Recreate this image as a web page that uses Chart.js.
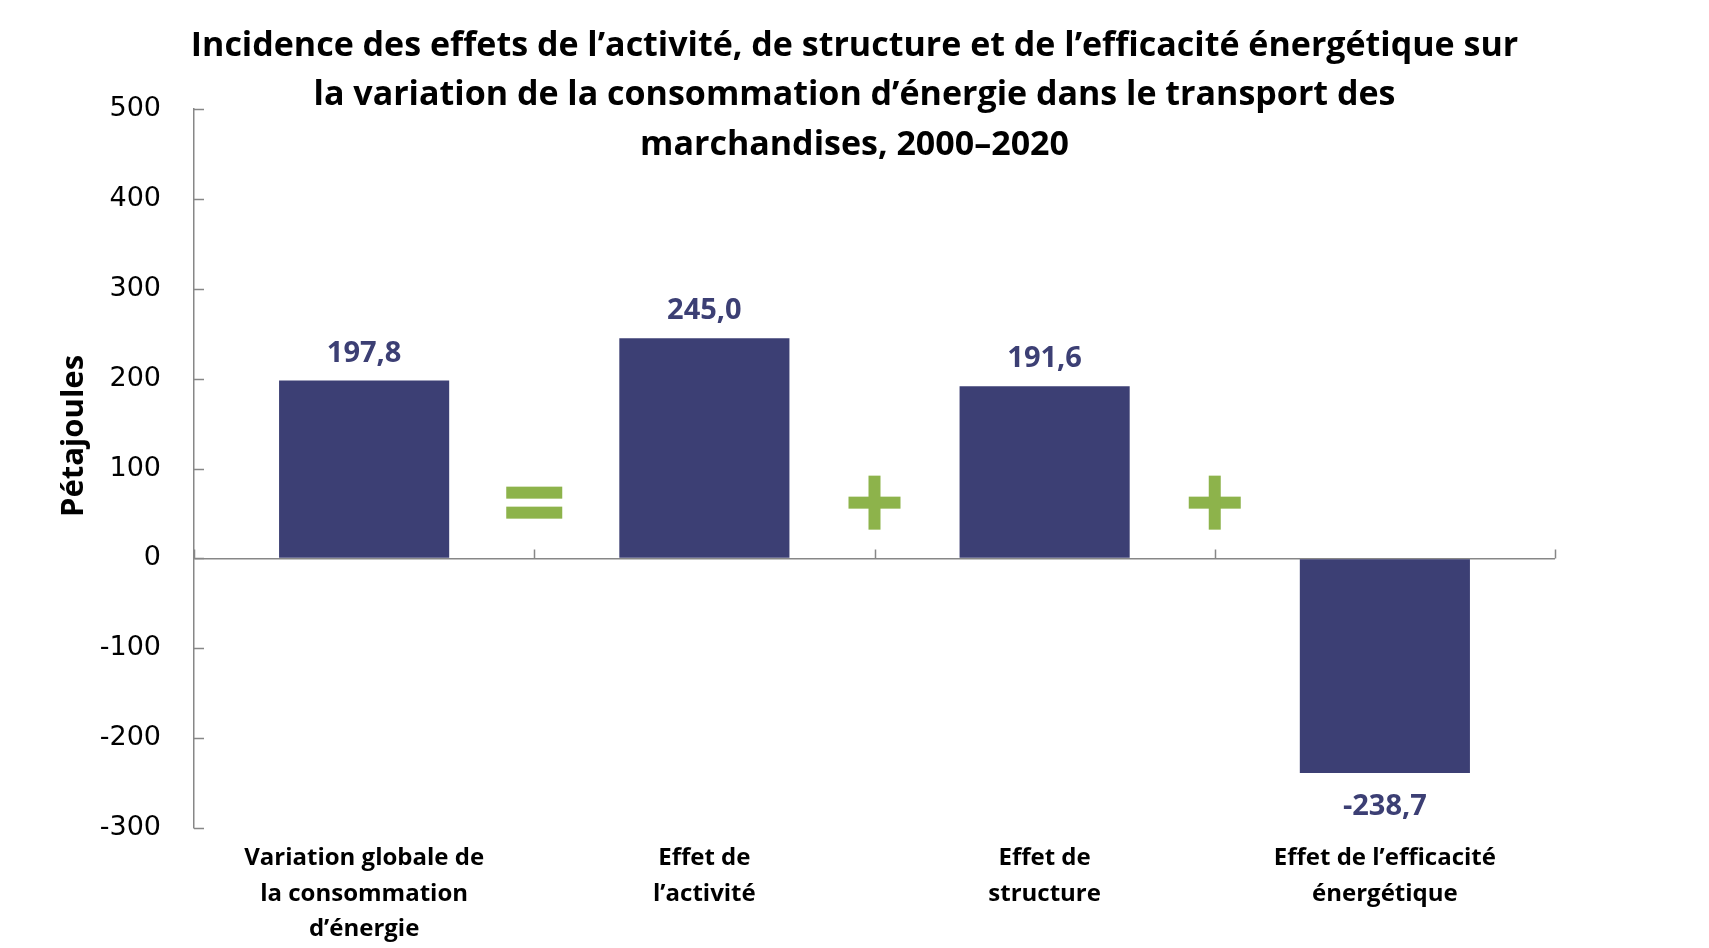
<!DOCTYPE html>
<html lang="fr">
<head>
<meta charset="utf-8">
<title>Incidence des effets – transport des marchandises</title>
<script src="https://cdn.jsdelivr.net/npm/chart.js@4.4.0/dist/chart.umd.min.js"></script>
<style>
    html, body { margin: 0; padding: 0; background: #fff; }
    #cadre { width: 1709px; height: 948px; }
</style>
</head>
<body>
<div id="cadre"><canvas id="graphique" width="1709" height="948"></canvas></div>
<script>
// Données
const categories = [
    ['Variation globale de', 'la consommation', 'd’énergie'],
    ['Effet de', 'l’activité'],
    ['Effet de', 'structure'],
    ['Effet de l’efficacité', 'énergétique']
];
const valeurs = [197.8, 245.0, 191.6, -238.7];
const ticksY = [-300, -200, -100, 0, 100, 200, 300, 400, 500];
const operateurs = ['=', '+', '+'];
const titreLignes = [
    'Incidence des effets de l’activité, de structure et de l’efficacité énergétique sur',
    'la variation de la consommation d’énergie dans le transport des',
    'marchandises, 2000–2020'
];
const titreAxeY = 'Pétajoules';

const BLEU = '#3c3f74';
const VERT = '#8db34b';
const GRIS = '#878787';
const niveauOperateurs = 62; // hauteur (en PJ) des signes = et +

function formatFr(v) {
    return v.toFixed(1).replace('.', ',');
}

const decor = {
    id: 'decor',
    afterDatasetsDraw(chart) {
        const ctx = chart.ctx;
        const meta = chart.getDatasetMeta(0);
        ctx.save();
        ctx.font = 'bold 29px "Open Sans"';
        ctx.fillStyle = BLEU;
        ctx.textAlign = 'center';
        ctx.textBaseline = 'middle';
        meta.data.forEach((bar, i) => {
            const v = valeurs[i];
            const y = v >= 0 ? bar.y - 27 : bar.y + 34;
            ctx.fillText(formatFr(v), bar.x, y);
        });
        ctx.restore();
    },
    afterDraw(chart) {
        const ctx = chart.ctx;
        const x = chart.scales.x;
        const y = chart.scales.y;
        const zero = y.getPixelForValue(0);
        ctx.save();

        // petites graduations vers l'intérieur
        ctx.strokeStyle = GRIS;
        ctx.lineWidth = 1.5;
        ctx.beginPath();
        ticksY.forEach(t => {
            const py = Math.round(y.getPixelForValue(t)) + 0.5;
            ctx.moveTo(y.right, py);
            ctx.lineTo(y.right + 10, py);
        });
        for (let i = 0; i <= categories.length; i++) {
            const px = Math.round(x.getPixelForValue(i - 0.5)) + 0.5;
            ctx.moveTo(px, zero);
            ctx.lineTo(px, zero - 9);
        }
        ctx.stroke();

        // signes = et +
        ctx.fillStyle = VERT;
        const cy = y.getPixelForValue(niveauOperateurs);
        operateurs.forEach((op, i) => {
            const cx = x.getPixelForValue(i + 0.5);
            if (op === '=') {
                ctx.fillRect(cx - 28, cy - 16, 56, 12);
                ctx.fillRect(cx - 28, cy + 4, 56, 12);
            } else {
                ctx.fillRect(cx - 26, cy - 6, 52, 12);
                ctx.fillRect(cx - 6, cy - 27, 12, 54);
            }
        });

        // titre
        ctx.fillStyle = '#000';
        ctx.textAlign = 'center';
        ctx.textBaseline = 'middle';
        ctx.font = 'bold 34px "Open Sans"';
        titreLignes.forEach((ligne, i) => {
            ctx.fillText(ligne, chart.width / 2, 46 + i * 49.5);
        });

        // titre de l'axe
        ctx.translate(74, 436);
        ctx.rotate(-Math.PI / 2);
        ctx.font = 'bold 31px "Open Sans"';
        ctx.fillText(titreAxeY, 0, 0);
        ctx.restore();
    }
};

new Chart(document.getElementById('graphique'), {
    type: 'bar',
    data: {
        labels: categories,
        datasets: [{
            data: valeurs,
            backgroundColor: BLEU,
            barPercentage: 0.5,
            categoryPercentage: 1
        }]
    },
    options: {
        responsive: false,
        animation: false,
        layout: { padding: { top: 109, right: 154, bottom: 0, left: 0 } },
        plugins: {
            legend: { display: false },
            tooltip: { enabled: false }
        },
        scales: {
            x: {
                grid: { display: false },
                border: { display: false },
                ticks: {
                    color: '#000',
                    font: { family: 'Open Sans', weight: 'bold', size: 24, lineHeight: 1.47 },
                    padding: 5,
                    maxRotation: 0,
                    autoSkip: false
                },
                afterFit(scale) { scale.height = 120; }
            },
            y: {
                min: ticksY[0],
                max: ticksY[ticksY.length - 1],
                z: 1,
                ticks: {
                    stepSize: 100,
                    color: '#000',
                    font: { family: 'DejaVu Sans', size: 27 },
                    padding: 33
                },
                grid: {
                    drawTicks: false,
                    lineWidth: 1.5,
                    color: c => c.tick && c.tick.value === 0 ? GRIS : 'rgba(0,0,0,0)'
                },
                border: { color: GRIS, width: 1.5 },
                afterFit(scale) { scale.width = 194; }
            }
        }
    },
    plugins: [decor]
});
</script>
</body>
</html>
